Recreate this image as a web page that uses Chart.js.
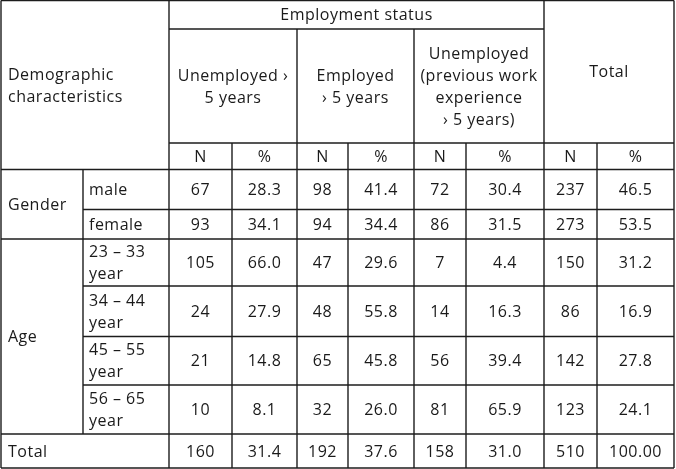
<!DOCTYPE html>
<html>
<head>
<meta charset="utf-8">
<script src="https://cdn.jsdelivr.net/npm/chart.js"></script>
<style>
  html, body { margin: 0; padding: 0; background: #fff; }
  #wrap { width: 676px; height: 469px; position: relative; }
</style>
</head>
<body>
<div id="wrap"><canvas id="tbl"></canvas></div>
<script>
// ---------------------
// Table data
// ---------------------
const groupLabels = ['Gender', 'Age'];
const rowLabels = ['male', 'female', '23 – 33|year', '34 – 44|year', '45 – 55|year', '56 – 65|year', 'Total'];
const statusLabels = ['Unemployed ›|5 years', 'Employed|› 5 years', 'Unemployed|(previous work|experience|› 5 years)', 'Total'];
const subLabels = ['N', '%'];

const unemployedN   = [67, 93, 105, 24, 21, 10, 160];
const unemployedPct = [28.3, 34.1, 66.0, 27.9, 14.8, 8.1, 31.4];
const employedN     = [98, 94, 47, 48, 65, 32, 192];
const employedPct   = [41.4, 34.4, 29.6, 55.8, 45.8, 26.0, 37.6];
const prevWorkN     = [72, 86, 7, 14, 56, 81, 158];
const prevWorkPct   = [30.4, 31.5, 4.4, 16.3, 39.4, 65.9, 31.0];
const totalN        = [237, 273, 150, 86, 142, 123, 510];
const totalPct      = [46.5, 53.5, 31.2, 16.9, 27.8, 24.1, 100.00];

// layout (in scale units, scale = page pixels)
const colEdges = [1, 83, 169, 232, 297, 348, 414, 466, 544, 597, 674];
const rowEdges = [0.5, 29, 143, 169.5, 209.5, 239, 286, 336.5, 385, 434, 468];

const fmtPct = v => (v === 100 ? v.toFixed(2) : v.toFixed(1));
const columns = [
  { vals: unemployedN, f: String }, { vals: unemployedPct, f: fmtPct },
  { vals: employedN, f: String }, { vals: employedPct, f: fmtPct },
  { vals: prevWorkN, f: String }, { vals: prevWorkPct, f: fmtPct },
  { vals: totalN, f: String }, { vals: totalPct, f: fmtPct }
];

const FONT = '500 16px "Open Sans", sans-serif';
const INK = '#1a1a1a';
const LINE_H = 22;

const tablePlugin = {
  id: 'tablePlugin',
  afterDraw(chart) {
    const ctx = chart.ctx;
    const xs = chart.scales.x, ys = chart.scales.y;
    const X = v => xs.getPixelForValue(v);
    const Y = v => ys.getPixelForValue(v);
    const C = colEdges, R = rowEdges;

    ctx.save();
    ctx.strokeStyle = '#1c1c1c';
    ctx.lineWidth = 1.4;
    const hl = (y, x0, x1) => { ctx.beginPath(); ctx.moveTo(X(x0), Y(y)); ctx.lineTo(X(x1), Y(y)); ctx.stroke(); };
    const vl = (x, y0, y1) => { ctx.beginPath(); ctx.moveTo(X(x), Y(y0)); ctx.lineTo(X(x), Y(y1)); ctx.stroke(); };

    // outer frame
    hl(R[0], C[0], C[10]); hl(R[10], C[0], C[10]);
    vl(C[0], R[0], R[10]); vl(C[10], R[0], R[10]);
    // header rules
    hl(R[1], C[2], C[8]);
    hl(R[2], C[2], C[10]);
    hl(R[3], C[0], C[10]);
    hl(R[4], C[1], C[10]);
    hl(R[5], C[0], C[10]);
    hl(R[6], C[1], C[10]);
    hl(R[7], C[1], C[10]);
    hl(R[8], C[1], C[10]);
    hl(R[9], C[0], C[10]);
    // vertical rules
    vl(C[1], R[3], R[9]);
    vl(C[2], R[0], R[10]);
    vl(C[8], R[0], R[10]);
    [C[3], C[5], C[7], C[9]].forEach(x => vl(x, R[2], R[10]));
    [C[4], C[6]].forEach(x => vl(x, R[1], R[10]));

    // text
    ctx.fillStyle = INK;
    ctx.font = FONT;
    ctx.letterSpacing = '0.5px';
    ctx.textBaseline = 'middle';
    const text = (str, x, y, align) => {
      const lines = str.split('|');
      ctx.textAlign = align;
      const top = y - (lines.length - 1) * LINE_H / 2;
      lines.forEach((l, i) => ctx.fillText(l, X(x), Y(top + i * LINE_H + 1)));
    };
    const mid = (a, b) => (a + b) / 2;

    text('Employment status', mid(C[2], C[8]), mid(R[0], R[1]), 'center');
    text('Demographic|characteristics', C[0] + 7, mid(R[0], R[3]), 'left');
    for (let s = 0; s < 3; s++) {
      text(statusLabels[s], mid(C[2 + 2 * s], C[4 + 2 * s]), mid(R[1], R[2]), 'center');
    }
    text(statusLabels[3], mid(C[8], C[10]), mid(R[0], R[2]), 'center');
    for (let k = 0; k < 8; k++) {
      text(subLabels[k % 2], mid(C[2 + k], C[3 + k]), mid(R[2], R[3]), 'center');
    }
    text(groupLabels[0], C[0] + 7, mid(R[3], R[5]), 'left');
    text(groupLabels[1], C[0] + 7, mid(R[5], R[9]), 'left');
    rowLabels.forEach((lab, r) => {
      const y = mid(R[3 + r], R[4 + r]);
      text(lab, r === 6 ? C[0] + 7 : C[1] + 6, y, 'left');
      columns.forEach((col, k) => {
        text(col.f(col.vals[r]), mid(C[2 + k], C[3 + k]), y, 'center');
      });
    });
    ctx.restore();
  }
};

new Chart(document.getElementById('tbl'), {
  type: 'scatter',
  data: { datasets: [{ data: [], pointRadius: 0 }] },
  options: {
    responsive: true,
    maintainAspectRatio: false,
    animation: false,
    events: [],
    layout: { padding: 0 },
    plugins: { legend: { display: false }, tooltip: { enabled: false } },
    scales: {
      x: { type: 'linear', min: 0, max: 676, display: false },
      y: { type: 'linear', min: 0, max: 469, reverse: true, display: false }
    }
  },
  plugins: [tablePlugin]
});
</script>
</body>
</html>
